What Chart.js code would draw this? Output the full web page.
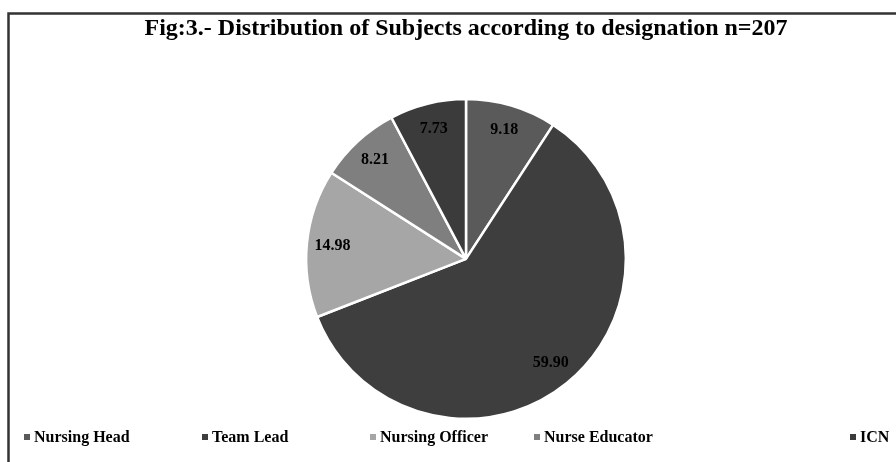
<!DOCTYPE html>
<html>
<head>
<meta charset="utf-8">
<script src="https://cdn.jsdelivr.net/npm/chart.js@4"></script>
<style>
  html, body { margin: 0; padding: 0; background: #fff; }
  #wrap { width: 896px; height: 462px; position: relative; }
</style>
</head>
<body>
<div id="wrap"><canvas id="chart"></canvas></div>
<script>
// Data
const labels = ["Nursing Head", "Team Lead", "Nursing Officer", "Nurse Educator", "ICN"];
const values = [9.18, 59.90, 14.98, 8.21, 7.73];
const colors = ["#5a5a5a", "#3e3e3e", "#a6a6a6", "#7f7f7f", "#3b3b3b"];
const titleText = "Fig:3.- Distribution of Subjects according to designation n=207";

// legend item x positions (layout only)
const legendX = [27, 205, 373, 537, 853];

const serif = "'Liberation Serif', 'Times New Roman', serif";

// Frame around the figure
const framePlugin = {
  id: "frame",
  beforeDraw(chart) {
    const ctx = chart.ctx;
    ctx.save();
    ctx.fillStyle = "#fff";
    ctx.fillRect(0, 0, chart.width, chart.height);
    ctx.strokeStyle = "#333";
    ctx.lineWidth = 2.5;
    ctx.beginPath();
    ctx.moveTo(8.5, chart.height);
    ctx.lineTo(8.5, 13.5);
    ctx.lineTo(chart.width, 13.5);
    ctx.stroke();
    ctx.restore();
  }
};

// Value labels inside slices
const valueLabels = {
  id: "valueLabels",
  afterDatasetsDraw(chart) {
    const ctx = chart.ctx;
    const meta = chart.getDatasetMeta(0);
    ctx.save();
    ctx.font = "bold 16px " + serif;
    ctx.fillStyle = "#000";
    ctx.textAlign = "center";
    ctx.textBaseline = "middle";
    meta.data.forEach((arc, i) => {
      const p = arc.getProps(["x", "y", "startAngle", "endAngle", "outerRadius"], true);
      const mid = (p.startAngle + p.endAngle) / 2;
      const r = p.outerRadius * 0.84;
      ctx.fillText(values[i].toFixed(2), p.x + Math.cos(mid) * r, p.y + Math.sin(mid) * r);
    });
    ctx.restore();
  }
};

// Legend along the bottom
const bottomLegend = {
  id: "bottomLegend",
  afterDraw(chart) {
    const ctx = chart.ctx;
    const y = 437;
    ctx.save();
    ctx.font = "bold 16px " + serif;
    ctx.textBaseline = "middle";
    ctx.textAlign = "left";
    labels.forEach((lab, i) => {
      const x = legendX[i];
      ctx.fillStyle = colors[i];
      ctx.fillRect(x - 3, y - 3, 6, 6);
      ctx.fillStyle = "#000";
      ctx.fillText(lab, x + 7, y + 1);
    });
    ctx.restore();
  }
};

new Chart(document.getElementById("chart"), {
  type: "pie",
  data: {
    labels: labels,
    datasets: [{
      data: values,
      backgroundColor: colors,
      borderColor: "#fff",
      borderWidth: 2.5
    }]
  },
  options: {
    responsive: true,
    maintainAspectRatio: false,
    animation: false,
    layout: { padding: { top: 14, left: 36, right: 0, bottom: 42 } },
    plugins: {
      legend: { display: false },
      tooltip: { enabled: false },
      title: {
        display: true,
        text: titleText,
        color: "#000",
        font: { family: serif, size: 24, weight: "bold", lineHeight: 1.2 },
        padding: { top: 0, bottom: 55 }
      }
    }
  },
  plugins: [framePlugin, valueLabels, bottomLegend]
});
</script>
</body>
</html>
